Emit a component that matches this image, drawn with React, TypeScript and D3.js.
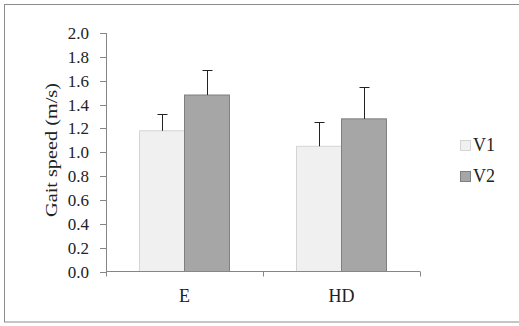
import React from "react";
import { scaleLinear, scaleBand, format } from "d3";

const categories = ["E", "HD"];
const series = ["V1", "V2"];
const v1Values = [1.18, 1.05];
const v2Values = [1.48, 1.28];
const v1Errors = [0.14, 0.2];
const v2Errors = [0.21, 0.27];
const yTickValues = [0, 0.2, 0.4, 0.6, 0.8, 1.0, 1.2, 1.4, 1.6, 1.8, 2.0];

const fills = ["#f0f0f0", "#a6a6a6"];
const strokes = ["#d4d4d4", "#7f7f7f"];

export default function App() {
  const width = 519;
  const height = 326;
  const font = "'Liberation Serif', 'Times New Roman', serif";

  // plot area
  const left = 106;
  const right = 420;
  const top = 33;
  const bottom = 271.5;

  const xScale = scaleBand()
    .domain(categories)
    .range([left, right])
    .paddingInner(0.427)
    .paddingOuter(0.2135);
  const seriesScale = scaleBand().domain(series).range([0, xScale.bandwidth()]);
  const yScale = scaleLinear().domain([0, 2]).range([bottom, top]);
  const fmt = format(".1f");

  const values = [v1Values, v2Values];
  const errors = [v1Errors, v2Errors];

  // ticks on x axis sit between categories
  const step = xScale.step();
  const xTicks = [left, left + step, left + 2 * step];

  return (
    <svg
      width={width}
      height={height}
      style={{ position: "absolute", left: 0, top: 0, background: "white" }}
    >
      <rect x={4.5} y={4.5} width={520} height={317.5} fill="white" stroke="#8c8c8c" />

      {/* bars */}
      {categories.map((cat, ci) => (
        <g key={cat}>
          {series.map((s, si) => {
            const x = xScale(cat) + seriesScale(s);
            const v = values[si][ci];
            return (
              <rect
                key={s}
                x={x}
                y={yScale(v)}
                width={seriesScale.bandwidth()}
                height={bottom - yScale(v)}
                fill={fills[si]}
                stroke={strokes[si]}
              />
            );
          })}
        </g>
      ))}

      {/* error bars */}
      {categories.map((cat, ci) => (
        <g key={cat + "err"}>
          {series.map((s, si) => {
            const cx = Math.round(xScale(cat) + seriesScale(s) + seriesScale.bandwidth() / 2) + 0.5;
            const v = values[si][ci];
            const e = errors[si][ci];
            const y0 = yScale(v);
            const y1 = Math.round(yScale(v + e)) + 0.5;
            return (
              <g key={s}>
                <line x1={cx} x2={cx} y1={y0} y2={y1} stroke="#222" />
                <line x1={cx - 5} x2={cx + 5} y1={y1} y2={y1} stroke="#222" />
              </g>
            );
          })}
        </g>
      ))}

      {/* y axis */}
      <line x1={left + 0.5} x2={left + 0.5} y1={top} y2={bottom} stroke="#868686" />
      {yTickValues.map(t => (
        <g key={t} transform={`translate(0, ${Math.round(yScale(t)) + 0.5})`}>
          <line x1={left - 6} x2={left} stroke="#868686" />
          <text
            x={89}
            dy="0.35em"
            textAnchor="end"
            fontFamily={font}
            fontSize={17}
            fill="#222"
          >
            {fmt(t)}
          </text>
        </g>
      ))}

      {/* x axis */}
      <line x1={left} x2={right} y1={bottom} y2={bottom} stroke="#868686" />
      {xTicks.map((x, i) => (
        <line key={i} x1={Math.round(x) + 0.5} x2={Math.round(x) + 0.5} y1={bottom} y2={bottom + 5} stroke="#868686" />
      ))}
      {categories.map(cat => (
        <text
          key={cat}
          x={xScale(cat) + xScale.bandwidth() / 2}
          y={302}
          textAnchor="middle"
          fontFamily={font}
          fontSize={18}
          fill="#222"
        >
          {cat}
        </text>
      ))}

      {/* y label */}
      <text
        transform="translate(57, 150) rotate(-90)"
        textAnchor="middle"
        fontFamily={font}
        fontSize={16}
        textLength={134}
        lengthAdjust="spacingAndGlyphs"
        fill="#222"
      >
        Gait speed (m/s)
      </text>

      {/* legend */}
      {series.map((s, i) => (
        <g key={s} transform={`translate(460, ${140 + i * 31})`}>
          <rect x={0.5} y={0.5} width={10} height={10} fill={fills[i]} stroke={strokes[i]} />
          <text x={13} y={11} fontFamily={font} fontSize={18} fill="#222">
            {s}
          </text>
        </g>
      ))}
    </svg>
  );
}
